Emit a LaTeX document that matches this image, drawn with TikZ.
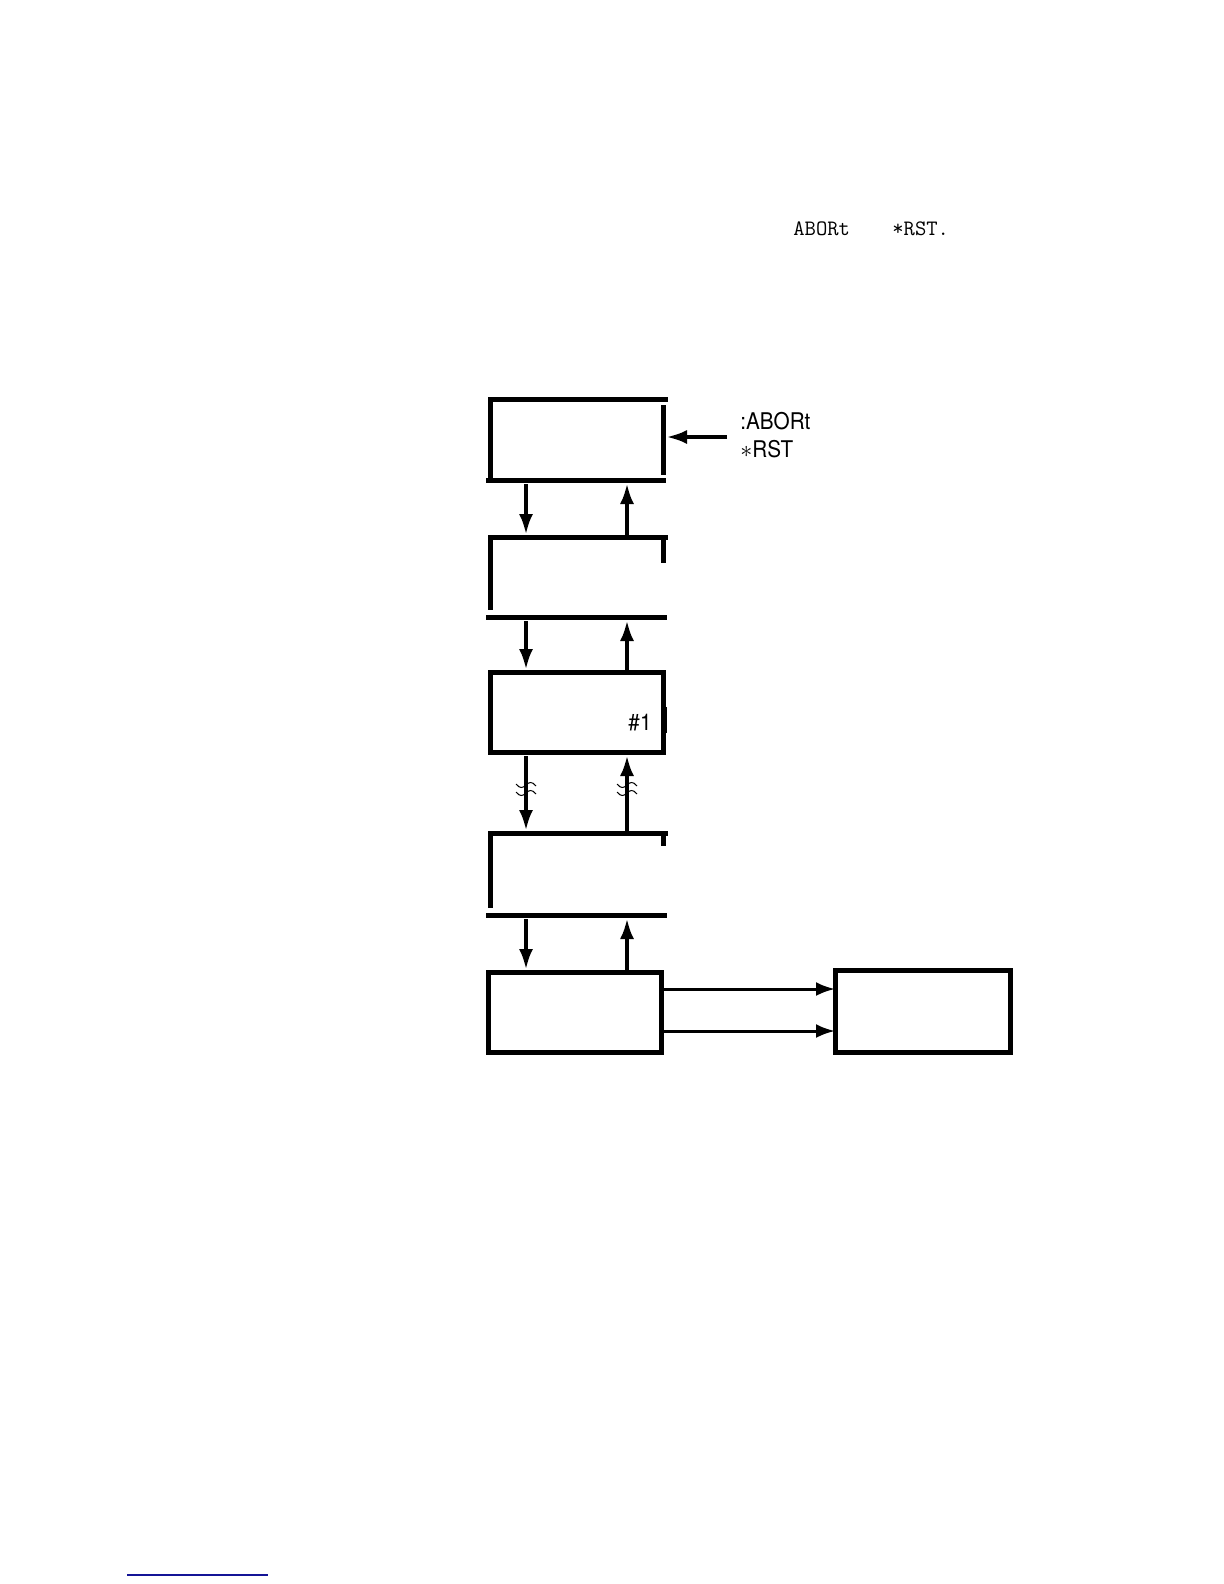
\documentclass[tikz,border=0pt]{standalone}
\usepackage{fontspec}
\newfontfamily\lblfont[FakeStretch=0.9]{TeX Gyre Heros}
\usetikzlibrary{arrows.meta,fit,calc}
\definecolor{linkblue}{RGB}{20,20,150}
\begin{document}
\begin{tikzpicture}[x=0.5pt,y=-0.5pt,
  boxline/.style={line width=2.5pt,line cap=rect},
  frame/.style={draw=none,inner sep=0pt,outer sep=0pt},
  flow/.style={line width=2.2pt,-{Latex[length=10.5pt,width=7pt]}},
  hflow/.style={line width=1.5pt,-{Latex[length=9.5pt,width=7pt]}},
  lbl/.style={font=\lblfont\fontsize{11.5}{12}\selectfont,inner sep=0pt},
  mono/.style={font=\ttfamily\fontsize{11}{12}\selectfont,inner sep=0pt},
  brk/.style={line width=0.5pt},
  brkmark/.pic={\draw[brk] (-10,-1) .. controls (-6,4) and (-3,3) .. (0,0) .. controls (3,-3) and (6,-4) .. (10,1);}]
\useasboundingbox (0,0) rectangle (1224,1584);

% top text
\node[mono,anchor=base west] (t1) at (793,235) {ABORt};
\node[mono,anchor=base west] (t2) at (892,235) {*RST.};

% box frames
\node[frame,fit={(490,399)(663,480)}] (b1) {};
\node[frame,fit={(490,537)(663,617)}] (b2) {};
\node[frame,fit={(490,672)(663,752)}] (b3) {};
\node[frame,fit={(490,833)(663,915)}] (b4) {};
\node[frame,fit={(488,972)(661,1052)}] (b5) {};
\node[frame,fit={(835,970)(1010,1052)}] (b6) {};

% box 1
\draw[boxline] (b1.north west) -- ($(b1.north east)+(2,0)$);
\draw[boxline] (b1.north west) -- (b1.south west);
\draw[boxline] ($(b1.south west)+(-2,0)$) -- (b1.south east);
\draw[boxline] ($(b1.north east)+(0,8)$) -- ($(b1.south east)+(0,-8)$);

% box 2
\draw[boxline] (b2.north west) -- ($(b2.north east)+(2,0)$);
\draw[boxline] (b2.north west) -- ($(b2.south west)+(0,-10)$);
\draw[boxline] (b2.north east) -- ($(b2.north east)+(0,23)$);
\draw[boxline] ($(b2.south west)+(-2,0)$) -- ($(b2.south east)+(1,0)$);

% box 3
\draw[boxline] (b3.north west) rectangle (b3.south east);
\draw[line width=1.5pt] ($(b3.north east)+(2,35)$) -- ($(b3.north east)+(2,61)$);

% box 4
\draw[boxline] (b4.north west) -- ($(b4.north east)+(2,0)$);
\draw[boxline] (b4.north west) -- ($(b4.south west)+(0,-10)$);
\draw[boxline] (b4.north east) -- ($(b4.north east)+(0,10)$);
\draw[boxline] ($(b4.south west)+(-2,0)$) -- ($(b4.south east)+(1,0)$);

% box 5 and 6
\draw[boxline] (b5.north west) rectangle (b5.south east);
\draw[boxline] (b6.north west) rectangle (b6.south east);

% labels
\node[lbl,anchor=base west] (cmd1) at (740,429) {:ABORt};
\node[lbl,anchor=base west] (cmd2) at (740,457) {$\ast$RST};
\node[lbl] (num) at (640,723) {\#1};

% input arrow
\coordinate (ain) at (727,437);
\draw[flow] (ain) -- ($(b1.east |- ain)+(3,0)$);

% vertical arrows
\coordinate (dn) at (526,0);
\coordinate (upx) at (627,0);
\foreach \a/\b in {b1/b2,b2/b3,b3/b4,b4/b5}{
  \draw[flow] ($(\a.south -| dn)+(0,4)$) -- ($(\b.north -| dn)+(0,-2)$);
  \draw[flow] (\b.north -| upx) -- ($(\a.south -| upx)+(0,3)$);
}

% break marks
\pic at ($(b3.south -| dn)+(0,33)$) {brkmark};
\pic at ($(b3.south -| dn)+(0,41)$) {brkmark};
\pic at ($(b3.south -| upx)+(0,33)$) {brkmark};
\pic at ($(b3.south -| upx)+(0,41)$) {brkmark};

% horizontal arrows
\coordinate (h1) at (0,989);
\coordinate (h2) at (0,1031);
\draw[hflow] (b5.east |- h1) -- (b6.west |- h1);
\draw[hflow] (b5.east |- h2) -- (b6.west |- h2);

% blue rule
\coordinate (bl1) at (127,1575);
\coordinate (bl2) at (268,1575);
\draw[linkblue,line width=1pt] (bl1) -- (bl2);
\end{tikzpicture}
\end{document}
